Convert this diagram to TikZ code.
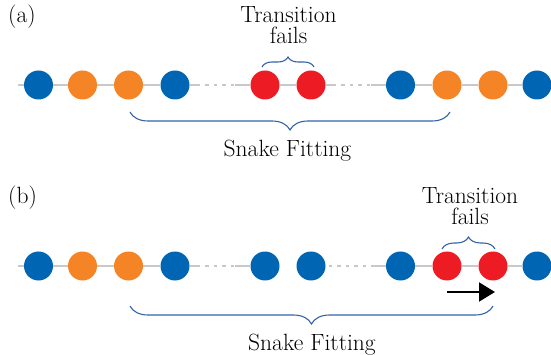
\documentclass[tikz,border=0pt]{standalone}
\usetikzlibrary{calc,arrows.meta,decorations.pathreplacing}

\definecolor{dotblue}{RGB}{0,101,179}
\definecolor{dotorange}{RGB}{245,132,38}
\definecolor{dotred}{RGB}{237,28,36}
\definecolor{bracecol}{RGB}{52,98,168}
\definecolor{trackgrey}{RGB}{200,200,200}

\tikzset{
  dot/.style={circle,minimum size=29pt,inner sep=0pt,draw=none},
  bluedot/.style={dot,fill=dotblue},
  orangedot/.style={dot,fill=dotorange},
  reddot/.style={dot,fill=dotred},
  track/.style={draw=trackgrey,line width=1.1pt},
  trackgap/.style={track,dash pattern=on 3.5pt off 5pt},
  curly/.style={draw=bracecol,line width=1.1pt,decorate,
    decoration={brace,amplitude=#1}},
  label/.style={font=\fontsize{23.5}{21}\selectfont,inner sep=0pt,align=center},
  push/.style={line width=2pt,-{Triangle[length=16pt,width=19pt]}}
}

\begin{document}
\begin{tikzpicture}[x=1pt,y=-1pt]
\useasboundingbox (0,0) rectangle (551,355);

% ---------- row (a) ----------
\node[label,anchor=base west] (tagA) at (8,23) {(a)};
\node[bluedot]   (a1)  at (38.5,85) {};
\node[orangedot] (a2)  at (82.5,85) {};
\node[orangedot] (a3)  at (128.5,85) {};
\node[bluedot]   (a4)  at (175,85) {};
\node[reddot]    (a5)  at (265,85) {};
\node[reddot]    (a6)  at (311,85) {};
\node[bluedot]   (a7)  at (400.5,85) {};
\node[orangedot] (a8)  at (447,85) {};
\node[orangedot] (a9)  at (493,85) {};
\node[bluedot]   (a10) at (537,85) {};
\coordinate (a0) at (18,85);

\draw[track] (a0) -- (a1.west);
\draw[track] (a1) -- (a2);
\draw[track] (a2) -- (a3);
\draw[track] (a3) -- (a4);
\draw[track] (a4.east) -- ($(a4.east)+(7,0)$);
\draw[trackgap] ($(a4.east)+(7,0)$) -- ($(a5.west)+(-15,0)$);
\draw[track] ($(a5.west)+(-15,0)$) -- (a5.west);
\draw[track] (a5) -- (a6);
\draw[track] (a6.east) -- ($(a6.east)+(7,0)$);
\draw[trackgap] ($(a6.east)+(7,0)$) -- ($(a7.west)+(-15,0)$);
\draw[track] ($(a7.west)+(-15,0)$) -- (a7.west);
\draw[track] (a7) -- (a8);
\draw[track] (a8) -- (a9);
\draw[track] (a9) -- (a10);

\coordinate (fa1) at (262,67);
\coordinate (fa2) at (314,67);
\draw[curly=10pt] (fa1) -- (fa2);
\node[label,anchor=base] (failA) at (288.5,44) {Transition\\fails};

\coordinate (sa1) at (130,112);
\coordinate (sa2) at (450,112);
\draw[curly=18pt] (sa2) -- (sa1);
\node[label,anchor=base] (snakeA) at (287.5,157) {Snake Fitting};

% ---------- row (b) ----------
\node[label,anchor=base west] (tagB) at (8,204) {(b)};
\node[bluedot]   (b1)  at (38.5,266) {};
\node[orangedot] (b2)  at (82.5,266) {};
\node[orangedot] (b3)  at (128.5,266) {};
\node[bluedot]   (b4)  at (175,266) {};
\node[bluedot]   (b5)  at (265,266) {};
\node[bluedot]   (b6)  at (311,266) {};
\node[bluedot]   (b7)  at (400.5,266) {};
\node[reddot]    (b8)  at (447,266) {};
\node[reddot]    (b9)  at (493,266) {};
\node[bluedot]   (b10) at (537,266) {};
\coordinate (b0) at (18,266);

\draw[track] (b0) -- (b1.west);
\draw[track] (b1) -- (b2);
\draw[track] (b2) -- (b3);
\draw[track] (b3) -- (b4);
\draw[track] (b4.east) -- ($(b4.east)+(7,0)$);
\draw[trackgap] ($(b4.east)+(7,0)$) -- ($(b5.west)+(-15,0)$);
\draw[track] ($(b5.west)+(-15,0)$) -- (b5.west);
\draw[trackgap] ($(b6.east)+(3,0)$) -- ($(b7.west)+(-14,0)$);
\draw[track] ($(b7.west)+(-14,0)$) -- (b7.west);
\draw[track] (b7) -- (b8);
\draw[track] (b8) -- (b9);
\draw[track] (b9) -- (b10);

\coordinate (fb1) at (442,249);
\coordinate (fb2) at (495,249);
\draw[curly=12pt] (fb1) -- (fb2);
\node[label,anchor=base] (failB) at (470,224.5) {Transition\\fails};

\coordinate (mv1) at (447,292);
\coordinate (mv2) at (495,292);
\draw[push] (mv1) -- (mv2);

\coordinate (sb1) at (130,306);
\coordinate (sb2) at (493,306);
\draw[curly=18pt] (sb2) -- (sb1);
\node[label,anchor=base] (snakeB) at (312,350) {Snake Fitting};
\end{tikzpicture}
\end{document}
